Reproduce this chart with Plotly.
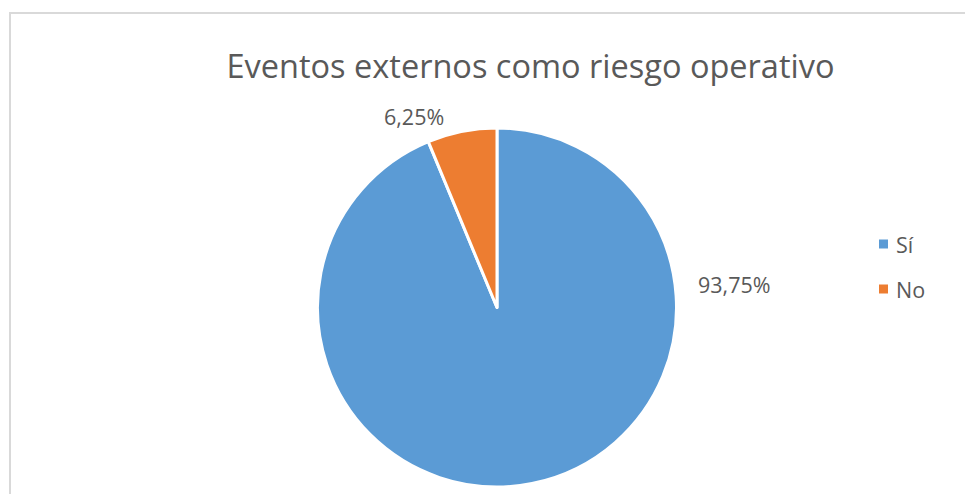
import plotly.graph_objects as go

W, H = 965, 494
labels = ["Sí", "No"]
values = [93.75, 6.25]
colors = ["#5B9BD5", "#ED7D31"]
title = "Eventos externos como riesgo operativo"

def px(x):
    return x / W

def py(y):
    return 1 - y / H

fig = go.Figure()
fig.add_trace(go.Pie(
    labels=labels, values=values, sort=False, direction="clockwise", rotation=0,
    marker=dict(colors=colors, line=dict(color="white", width=3)),
    textinfo="none", showlegend=False, hoverinfo="label+percent",
    domain=dict(x=[px(317), px(677)], y=[py(487), py(128)]),
))

# data labels
label_pos = {"Sí": (734, 284), "No": (414, 117)}
for lab, val in zip(labels, values):
    x, y = label_pos[lab]
    fig.add_annotation(x=px(x), y=py(y), xref="paper", yref="paper",
                       text=f"{val:.2f}".replace(".", ",") + "%", showarrow=False,
                       font=dict(family="Open Sans", size=21.5, color="#595959"),
                       xanchor="center", yanchor="middle")

# legend (manual)
leg_y = [244, 289]
for lab, col, y in zip(labels, colors, leg_y):
    fig.add_shape(type="rect", xref="paper", yref="paper",
                  x0=px(879), x1=px(888), y0=py(y - 4.5), y1=py(y + 4.5),
                  fillcolor=col, line=dict(width=0))
    fig.add_annotation(x=px(894), y=py(y), xref="paper", yref="paper",
                       text=lab, showarrow=False, xanchor="left", yanchor="middle",
                       font=dict(family="Open Sans", size=21.5, color="#595959"))

# chart border
fig.add_shape(type="rect", xref="paper", yref="paper",
              x0=px(10), x1=px(1000), y0=py(520), y1=py(13),
              line=dict(color="#D9D9D9", width=2), fillcolor="rgba(0,0,0,0)")

fig.update_layout(
    width=W, height=H, margin=dict(l=0, r=0, t=0, b=0),
    paper_bgcolor="white", plot_bgcolor="white",
    title=dict(text=title, x=px(530.5), xanchor="center", y=py(67), yanchor="middle",
               font=dict(family="Open Sans", size=32.5, color="#595959")),
)

fig.write_html("out.html")
